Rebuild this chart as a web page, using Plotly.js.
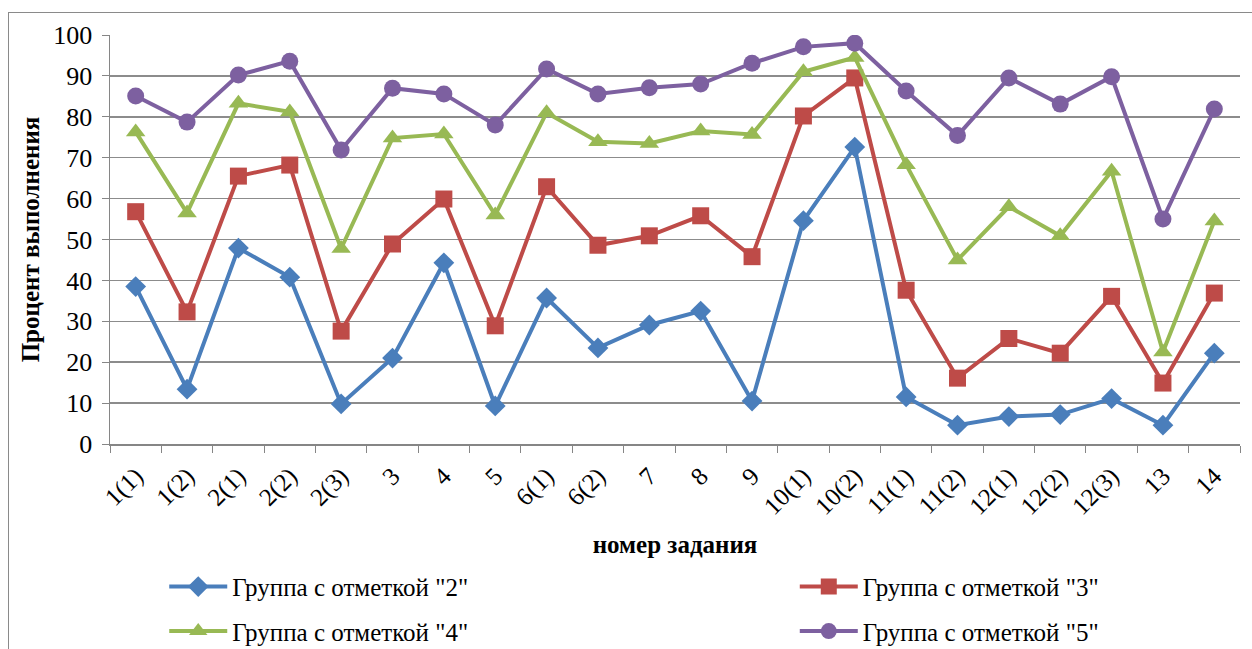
<!DOCTYPE html>
<html><head><meta charset="utf-8">
<script src="https://cdn.plot.ly/plotly-3.0.1.min.js"></script>
<style>
html,body{margin:0;padding:0;background:#fff;width:1252px;height:649px;overflow:hidden;}
#frame{position:absolute;left:8px;top:12px;width:1250px;height:650px;border:1.5px solid #8a8a8a;box-sizing:border-box;pointer-events:none;z-index:5;}
#chart{position:absolute;left:0;top:0;width:1252px;height:649px;}
#chart text{font-family:"Liberation Serif", serif !important;}
</style></head>
<body>
<div id="chart"></div><div id="frame"></div>
<script>
const categories = ["1(1)","1(2)","2(1)","2(2)","2(3)","3","4","5","6(1)","6(2)","7","8","9","10(1)","10(2)","11(1)","11(2)","12(1)","12(2)","12(3)","13","14"];
const group2 = [38.5,13.4,47.9,40.8,9.8,21.0,44.3,9.3,35.7,23.5,29.1,32.5,10.5,54.6,72.6,11.5,4.6,6.7,7.2,11.1,4.6,22.2];
const group3 = [56.8,32.3,65.5,68.2,27.6,48.9,59.9,28.9,62.9,48.6,50.9,55.8,45.8,80.2,89.5,37.6,16.1,25.8,22.2,36.1,14.9,36.9];
const group4 = [76.3,56.5,83.3,81.2,47.8,74.8,75.8,56.0,81.0,73.9,73.5,76.5,75.7,91.0,94.5,68.3,45.0,58.0,50.9,66.7,22.5,54.5];
const group5 = [85.1,78.7,90.2,93.6,71.9,87.0,85.6,78.0,91.7,85.6,87.1,88.0,93.1,97.1,98.0,86.3,75.4,89.5,83.1,89.8,55.0,81.9];
const names = ['Группа с отметкой "2"','Группа с отметкой "3"','Группа с отметкой "4"','Группа с отметкой "5"'];
const colors = ["#4A7EBB","#BE4B48","#98B954","#7D60A0"];
const symbols = ["diamond","square","triangle-up","circle"];
const sizes = [16,17,17,17];
const legendIds = ["legend","legend2","legend","legend2"];
const series = [group2,group3,group4,group5];

const traces = series.map((vals,i)=>({
  type:"scatter", mode:"lines+markers", x:categories, y:vals,
  name:"<span style='font-family:Liberation Serif'>" + names[i] + "</span>",
  legend:legendIds[i], legendgroup:"g"+i,
  line:{color:colors[i], width:4},
  marker:{symbol:symbols[i], size:sizes[i], color:colors[i]}
}));

const FAM = "Liberation Serif";
function legendCfg(x){
  return {
    orientation:"v", yanchor:"top", y:-0.293, x:x, xanchor:"left", itemwidth:58,
    tracegroupgap:9, font:{family:FAM, size:25, color:"#000000"}, bgcolor:"rgba(0,0,0,0)"
  };
}
const layout = {
  width:1252, height:649,
  margin:{l:110, r:12, t:35, b:205, autoexpand:false},
  paper_bgcolor:"#fff", plot_bgcolor:"#fff",
  font:{family:FAM, size:25, color:"#000"},
  showlegend:true,
  xaxis:{
    type:"category", tickson:"boundaries", ticks:"outside", ticklen:7, tickcolor:"#868686",
    showline:true, linecolor:"#868686", linewidth:1.5, showgrid:false, automargin:false,
    tickangle:-45, ticklabelstandoff:6, tickfont:{family:FAM, size:25},
    title:{text:"номер задания", font:{family:FAM, size:25, weight:"bold"}, standoff:16},
    range:[-0.5,21.5]
  },
  yaxis:{
    range:[0,100], dtick:10, ticks:"outside", ticklen:7, tickcolor:"#868686",
    showline:true, linecolor:"#868686", linewidth:1.5, automargin:false, ticklabelstandoff:4,
    showgrid:true, gridcolor:"#8c8c8c", gridwidth:1.5, zeroline:false,
    tickfont:{family:FAM, size:26},
    title:{text:"Процент выполнения", font:{family:FAM, size:25, weight:"bold"}, standoff:6}
  },
  legend:legendCfg(0.048),
  legend2:legendCfg(0.606)
};
Plotly.newPlot("chart", traces, layout, {displayModeBar:false, staticPlot:true}).then(function(gd){
  gd.querySelectorAll(".legendtext, .legendtext tspan").forEach(function(el){
    el.style.fontFamily = "Liberation Serif";
  });
});
</script>
</body></html>
